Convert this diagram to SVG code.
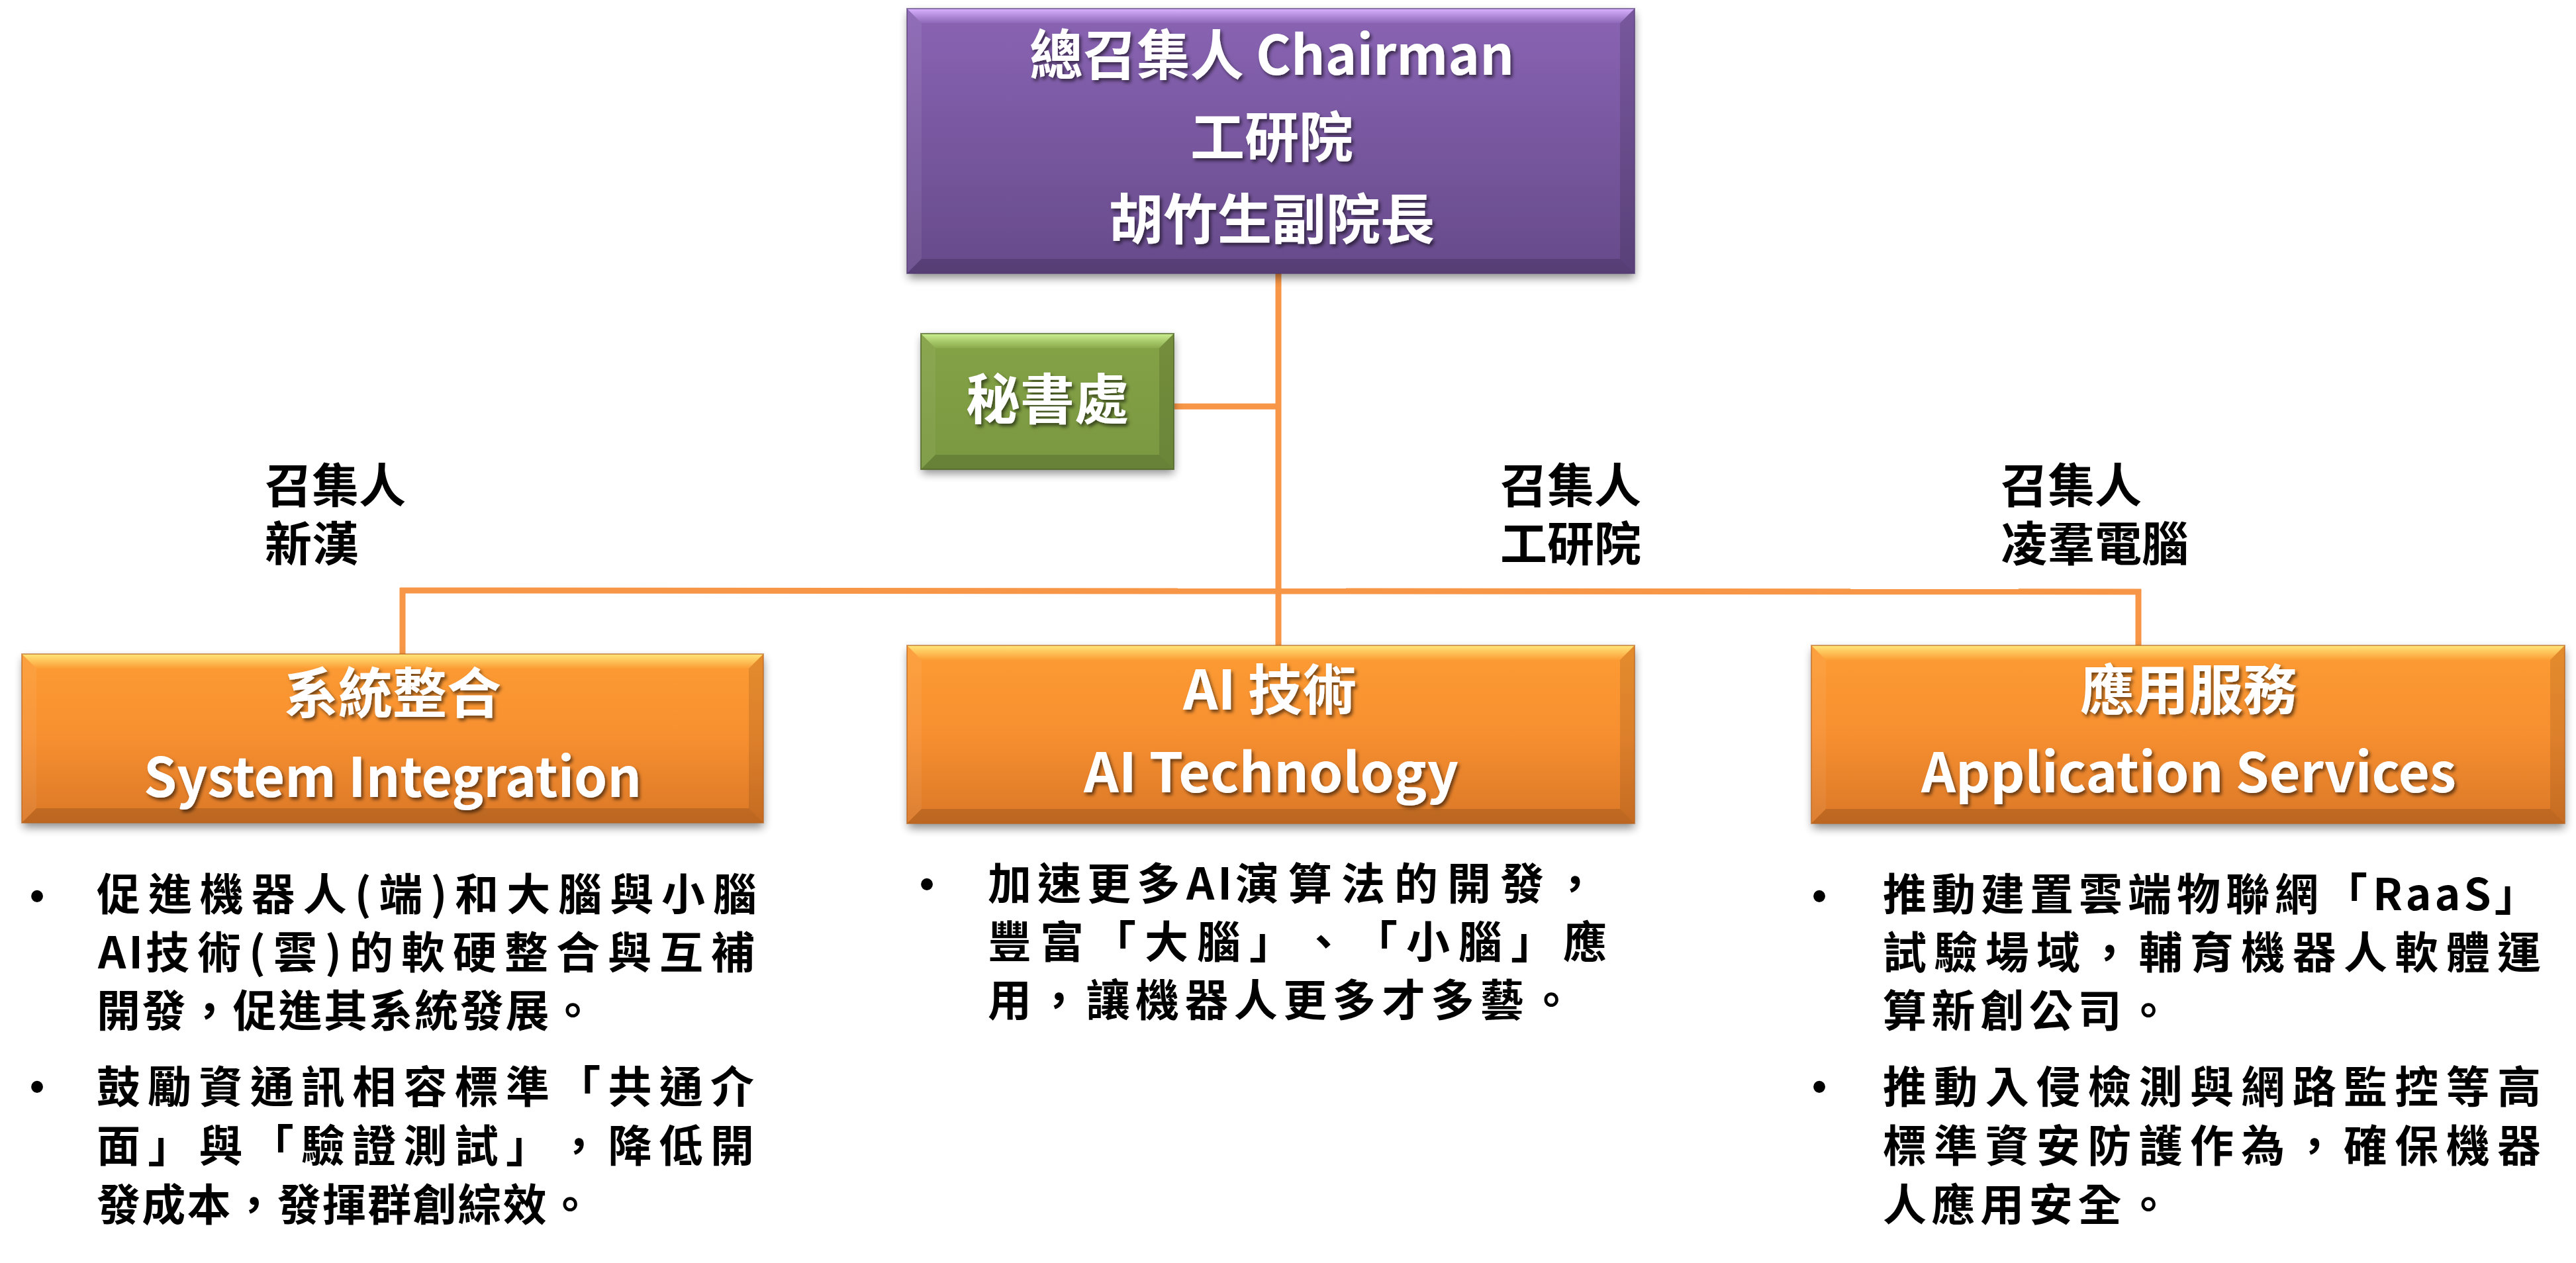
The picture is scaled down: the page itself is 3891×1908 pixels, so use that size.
<svg xmlns="http://www.w3.org/2000/svg" width="3891" height="1908" viewBox="0 0 3891 1908">
<defs>
<style>
.box-t{font-family:'Noto Sans CJK TC','Noto Sans CJK SC',sans-serif;font-weight:700;font-size:82px;fill:#ffffff;text-anchor:middle;filter:url(#tshadow);}
.lbl{font-family:'Noto Sans CJK TC','Noto Sans CJK SC',sans-serif;font-weight:700;font-size:71px;fill:#000000;}
.body{font-family:'Noto Sans CJK TC','Noto Sans CJK SC',sans-serif;font-weight:700;font-size:66px;fill:#000000;text-spacing-trim:space-all;}
.bul{font-family:'Liberation Sans',Arial,sans-serif;font-size:66px;fill:#000000;text-anchor:middle;}
.conn{stroke:#F79646;stroke-width:9;fill:none;}
.shadow{fill:#000;opacity:0.45;filter:url(#bshadow);}
</style>
<filter id="tshadow" x="-10%" y="-30%" width="120%" height="160%">
<feDropShadow dx="3" dy="4" stdDeviation="2.5" flood-color="#000" flood-opacity="0.55"/>
</filter>
<filter id="bshadow" x="-10%" y="-20%" width="120%" height="140%">
<feGaussianBlur stdDeviation="7"/>
</filter>
<linearGradient id="gPurple" x1="0" y1="0" x2="0" y2="1">
<stop offset="0" stop-color="#8A64B4"/><stop offset="1" stop-color="#664A8A"/>
</linearGradient>
<linearGradient id="gPurpleTop" x1="0" y1="0" x2="0" y2="1">
<stop offset="0" stop-color="#D9B2FF"/><stop offset="1" stop-color="#8D68B8"/>
</linearGradient>
<linearGradient id="gGreen" x1="0" y1="0" x2="0" y2="1">
<stop offset="0" stop-color="#84A246"/><stop offset="1" stop-color="#7A9840"/>
</linearGradient>
<linearGradient id="gGreenTop" x1="0" y1="0" x2="0" y2="1">
<stop offset="0" stop-color="#CBEE90"/><stop offset="1" stop-color="#8AAA4B"/>
</linearGradient>
<linearGradient id="gOrange" x1="0" y1="0" x2="0" y2="1">
<stop offset="0" stop-color="#FD9C33"/><stop offset="0.5" stop-color="#F78F30"/><stop offset="1" stop-color="#DB7827"/>
</linearGradient>
<linearGradient id="gOrangeTop" x1="0" y1="0" x2="0" y2="1">
<stop offset="0" stop-color="#FFE77C"/><stop offset="1" stop-color="#FC9D35"/>
</linearGradient>
</defs>
<rect x="0" y="0" width="3891" height="1908" fill="#ffffff"/>

<g id="connectors">
<line class="conn" x1="1931" y1="411" x2="1931" y2="976"/>
<line class="conn" x1="1774" y1="614" x2="1931" y2="614"/>
<line class="conn" x1="604" y1="892" x2="3234" y2="894"/>
<line class="conn" x1="608" y1="888" x2="608" y2="989"/>
<line class="conn" x1="3230" y1="890" x2="3230" y2="976"/>
</g>

<g id="chairman">
<rect class="shadow" x="1372" y="20" width="1097" height="400"/>
<rect x="1370" y="13" width="1099" height="400" fill="url(#gPurple)"/>
<polygon points="1370,13 2469,13 2447,35 1392,35" fill="url(#gPurpleTop)"/>
<polygon points="1370,13 1392,35 1392,391 1370,413" fill="#ffffff" opacity="0.07"/>
<polygon points="2469,13 2447,35 2447,391 2469,413" fill="#000000" opacity="0.12"/>
<polygon points="1370,413 1392,391 2447,391 2469,413" fill="#000000" opacity="0.15"/>
<rect x="1370" y="13" width="1099" height="400" fill="none" stroke="#4E3670" stroke-opacity="0.6" stroke-width="2"/>
<text class="box-t" x="1921" y="113" textLength="732" lengthAdjust="spacingAndGlyphs">總召集人 Chairman</text>
<text class="box-t" x="1921" y="237">工研院</text>
<text class="box-t" x="1921" y="361">胡竹生副院長</text>
</g>

<g id="secretariat">
<rect class="shadow" x="1393" y="510" width="380" height="205"/>
<rect x="1391" y="504" width="382" height="205" fill="url(#gGreen)"/>
<polygon points="1391,504 1773,504 1751,526 1413,526" fill="url(#gGreenTop)"/>
<polygon points="1391,504 1413,526 1413,687 1391,709" fill="#ffffff" opacity="0.06"/>
<polygon points="1773,504 1751,526 1751,687 1773,709" fill="#000000" opacity="0.12"/>
<polygon points="1391,709 1413,687 1751,687 1773,709" fill="#000000" opacity="0.15"/>
<rect x="1391" y="504" width="382" height="205" fill="none" stroke="#4A5F22" stroke-opacity="0.7" stroke-width="2"/>
<text class="box-t" x="1582" y="633">秘書處</text>
</g>

<g id="label-si">
<text class="lbl" x="400" y="759">召集人<tspan x="400" dy="88">新漢</tspan></text>
</g>
<g id="label-ai">
<text class="lbl" x="2266" y="759">召集人<tspan x="2266" dy="88">工研院</tspan></text>
</g>
<g id="label-as">
<text class="lbl" x="3022" y="759">召集人<tspan x="3022" dy="88">凌羣電腦</tspan></text>
</g>

<g id="system-integration">
<rect class="shadow" x="35" y="995" width="1118" height="255"/>
<rect x="33" y="988" width="1120" height="255" fill="url(#gOrange)"/>
<polygon points="33,988 1153,988 1131,1010 55,1010" fill="url(#gOrangeTop)"/>
<polygon points="33,988 55,1010 55,1221 33,1243" fill="#ffffff" opacity="0.06"/>
<polygon points="1153,988 1131,1010 1131,1221 1153,1243" fill="#000000" opacity="0.1"/>
<polygon points="33,1243 55,1221 1131,1221 1153,1243" fill="#000000" opacity="0.14"/>
<rect x="33" y="988" width="1120" height="255" fill="none" stroke="#B9631C" stroke-opacity="0.6" stroke-width="2"/>
<text class="box-t" x="593" y="1077">系統整合</text>
<text class="box-t" x="593" y="1204" font-size="86" textLength="752" lengthAdjust="spacingAndGlyphs">System Integration</text>
</g>

<g id="ai-technology">
<rect class="shadow" x="1372" y="982" width="1097" height="269"/>
<rect x="1370" y="975" width="1099" height="269" fill="url(#gOrange)"/>
<polygon points="1370,975 2469,975 2447,997 1392,997" fill="url(#gOrangeTop)"/>
<polygon points="1370,975 1392,997 1392,1222 1370,1244" fill="#ffffff" opacity="0.06"/>
<polygon points="2469,975 2447,997 2447,1222 2469,1244" fill="#000000" opacity="0.1"/>
<polygon points="1370,1244 1392,1222 2447,1222 2469,1244" fill="#000000" opacity="0.14"/>
<rect x="1370" y="975" width="1099" height="269" fill="none" stroke="#B9631C" stroke-opacity="0.6" stroke-width="2"/>
<text class="box-t" x="1918" y="1072">AI 技術</text>
<text class="box-t" x="1920" y="1197" font-size="86" textLength="566" lengthAdjust="spacingAndGlyphs">AI Technology</text>
</g>

<g id="application-services">
<rect class="shadow" x="2738" y="982" width="1136" height="269"/>
<rect x="2736" y="975" width="1138" height="269" fill="url(#gOrange)"/>
<polygon points="2736,975 3874,975 3852,997 2758,997" fill="url(#gOrangeTop)"/>
<polygon points="2736,975 2758,997 2758,1222 2736,1244" fill="#ffffff" opacity="0.06"/>
<polygon points="3874,975 3852,997 3852,1222 3874,1244" fill="#000000" opacity="0.1"/>
<polygon points="2736,1244 2758,1222 3852,1222 3874,1244" fill="#000000" opacity="0.14"/>
<rect x="2736" y="975" width="1138" height="269" fill="none" stroke="#B9631C" stroke-opacity="0.6" stroke-width="2"/>
<text class="box-t" x="3306" y="1072">應用服務</text>
<text class="box-t" x="3306" y="1197" font-size="86" textLength="808" lengthAdjust="spacingAndGlyphs">Application Services</text>
</g>

<g id="si-bullets">
<text class="bul" x="56" y="1376">•</text>
<text class="bul" x="56" y="1664">•</text>
<text class="body" x="146" y="1375" textLength="997" lengthAdjust="spacing">促進機器人(端)和大腦與小腦</text>
<text class="body" x="148" y="1463"><tspan letter-spacing="4">AI</tspan><tspan letter-spacing="12">技術(雲)的軟硬整合與互補</tspan></text>
<text class="body" x="146" y="1551" textLength="752" lengthAdjust="spacing">開發，促進其系統發展。</text>
<text class="body" x="146" y="1666" textLength="993" lengthAdjust="spacing">鼓勵資通訊相容標準「共通介</text>
<text class="body" x="146" y="1755" textLength="993" lengthAdjust="spacing">面」與「驗證測試」，降低開</text>
<text class="body" x="146" y="1844" textLength="748" lengthAdjust="spacing">發成本，發揮群創綜效。</text>
</g>

<g id="ai-bullets">
<text class="bul" x="1400" y="1358">•</text>
<text class="body" x="1492" y="1359"><tspan letter-spacing="9">加速更多</tspan><tspan letter-spacing="5">AI</tspan><tspan letter-spacing="14">演算法的開發，</tspan></text>
<text class="body" x="1492" y="1447" textLength="935" lengthAdjust="spacing">豐富「大腦」、「小腦」應</text>
<text class="body" x="1492" y="1535" textLength="884" lengthAdjust="spacing">用，讓機器人更多才多藝。</text>
</g>

<g id="as-bullets">
<text class="bul" x="2748" y="1376">•</text>
<text class="bul" x="2748" y="1664">•</text>
<text class="body" x="2844" y="1375"><tspan letter-spacing="8">推動建置雲端物聯網「</tspan><tspan letter-spacing="5">RaaS</tspan>」</text>
<text class="body" x="2844" y="1463" textLength="994" lengthAdjust="spacing">試驗場域，輔育機器人軟體運</text>
<text class="body" x="2844" y="1551" textLength="434" lengthAdjust="spacing">算新創公司。</text>
<text class="body" x="2844" y="1666" textLength="994" lengthAdjust="spacing">推動入侵檢測與網路監控等高</text>
<text class="body" x="2844" y="1755" textLength="994" lengthAdjust="spacing">標準資安防護作為，確保機器</text>
<text class="body" x="2844" y="1844" textLength="434" lengthAdjust="spacing">人應用安全。</text>
</g>
</svg>
